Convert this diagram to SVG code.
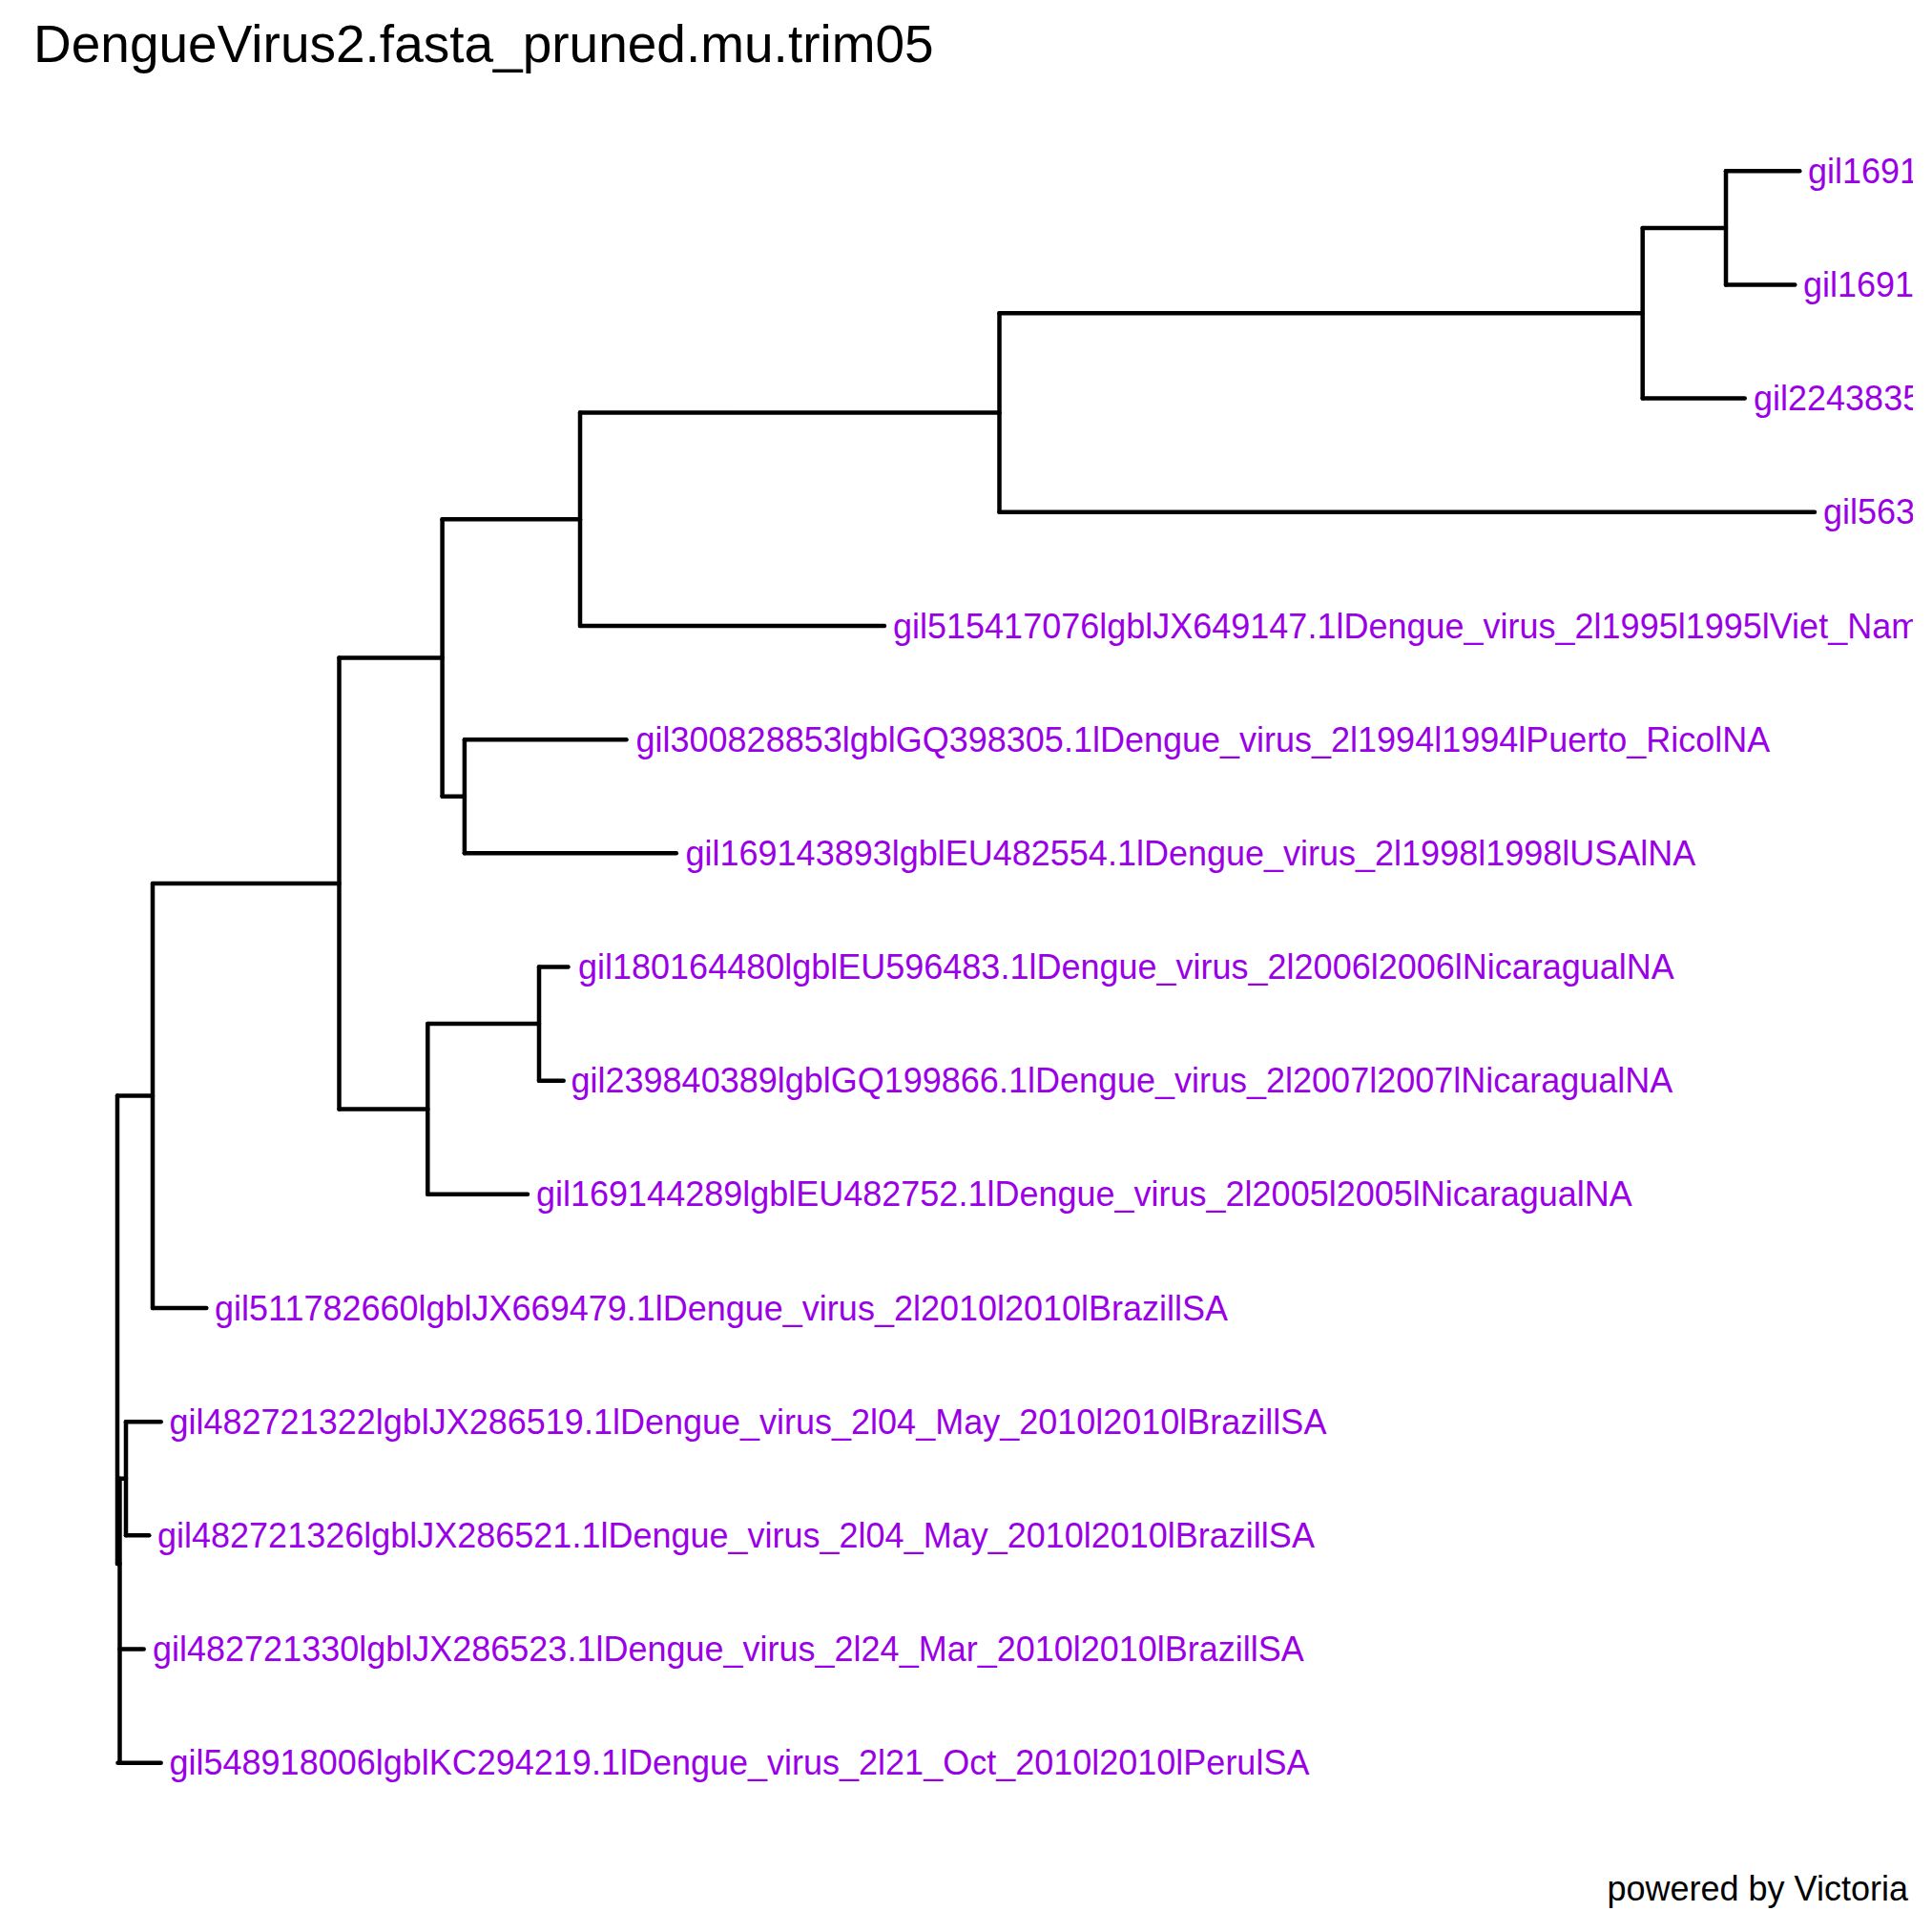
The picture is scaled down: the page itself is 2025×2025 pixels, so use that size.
<svg xmlns="http://www.w3.org/2000/svg" width="2025" height="2025" viewBox="0 0 2025 2025">
<defs>
<style>
.e{fill:none;stroke:#000;stroke-width:4.5;stroke-linecap:round;stroke-linejoin:round}
.lab{font-family:"Liberation Sans",Arial,Helvetica,sans-serif;font-size:36px;fill:#9A00E6}
.ttl{font-family:"Liberation Sans",Arial,Helvetica,sans-serif;font-size:55px;fill:#000}
.ft{font-family:"Liberation Sans",Arial,Helvetica,sans-serif;font-size:36px;fill:#000}
</style>
<clipPath id="panel"><rect x="0" y="0" width="2005" height="2025"/></clipPath>
</defs>
<rect x="0" y="0" width="2025" height="2025" fill="#fff"/>
<text class="ttl" x="35" y="65">DengueVirus2.fasta_pruned.mu.trim05</text>
<g id="connectors">
<path class="e" d="M123,1148.5V1639"/>
<path class="e" d="M125.5,1549.75V1847.7"/>
<path class="e" d="M132,1490.2V1609.3"/>
<path class="e" d="M160,926V1371"/>
<path class="e" d="M355.5,689.5V1162.45"/>
<path class="e" d="M463.6,544.25V834.75"/>
<path class="e" d="M486.9,775.2V894.3"/>
<path class="e" d="M608,432.5V656"/>
<path class="e" d="M1047.5,328.25V536.8"/>
<path class="e" d="M1721.7,238.9V417.6"/>
<path class="e" d="M1809,179.3V298.5"/>
<path class="e" d="M448.3,1073.1V1251.8"/>
<path class="e" d="M565,1013.5V1132.7"/>
<path class="e" d="M123,1148.5H160"/>
<path class="e" d="M123,1639H125.5"/>
<path class="e" d="M125.5,1549.75H132"/>
<path class="e" d="M125.5,1728.5H150.7"/>
<path class="e" d="M123.5,1847.7H168.7"/>
<path class="e" d="M132,1490.2H168.7"/>
<path class="e" d="M132,1609.3H156.3"/>
<path class="e" d="M160,926H355.5"/>
<path class="e" d="M160,1371H216.3"/>
<path class="e" d="M355.5,689.5H463.6"/>
<path class="e" d="M355.5,1162.45H448.3"/>
<path class="e" d="M463.6,544.25H608"/>
<path class="e" d="M463.6,834.75H486.9"/>
<path class="e" d="M486.9,775.2H656.5"/>
<path class="e" d="M486.9,894.3H708.8"/>
<path class="e" d="M608,432.5H1047.5"/>
<path class="e" d="M608,656H927"/>
<path class="e" d="M1047.5,328.25H1721.7"/>
<path class="e" d="M1047.5,536.8H1902"/>
<path class="e" d="M1721.7,238.9H1809"/>
<path class="e" d="M1721.7,417.6H1828.7"/>
<path class="e" d="M1809,179.3H1886.3"/>
<path class="e" d="M1809,298.5H1881.3"/>
<path class="e" d="M448.3,1073.1H565"/>
<path class="e" d="M448.3,1251.8H553"/>
<path class="e" d="M565,1013.5H595.5"/>
<path class="e" d="M565,1132.7H590.7"/>
</g>
<g clip-path="url(#panel)">
<g id="leaf0"><text class="lab" x="1895" y="191.8">gil1691</text></g>
<g id="leaf1"><text class="lab" x="1890" y="311">gil1691</text></g>
<g id="leaf2"><text class="lab" x="1838" y="430.1">gil2243835</text></g>
<g id="leaf3"><text class="lab" x="1911" y="549.3">gil563</text></g>
<g id="leaf4"><text class="lab" x="936" y="668.5">gil515417076lgblJX649147.1lDengue_virus_2l1995l1995lViet_Nam</text></g>
<g id="leaf5"><text class="lab" x="666.5" y="787.7">gil300828853lgblGQ398305.1lDengue_virus_2l1994l1994lPuerto_RicolNA</text></g>
<g id="leaf6"><text class="lab" x="718.5" y="906.8">gil169143893lgblEU482554.1lDengue_virus_2l1998l1998lUSAlNA</text></g>
<g id="leaf7"><text class="lab" x="606" y="1026">gil180164480lgblEU596483.1lDengue_virus_2l2006l2006lNicaragualNA</text></g>
<g id="leaf8"><text class="lab" x="598.5" y="1145.2">gil239840389lgblGQ199866.1lDengue_virus_2l2007l2007lNicaragualNA</text></g>
<g id="leaf9"><text class="lab" x="562" y="1264.3">gil169144289lgblEU482752.1lDengue_virus_2l2005l2005lNicaragualNA</text></g>
<g id="leaf10"><text class="lab" x="225" y="1383.5">gil511782660lgblJX669479.1lDengue_virus_2l2010l2010lBrazillSA</text></g>
<g id="leaf11"><text class="lab" x="177.5" y="1502.7">gil482721322lgblJX286519.1lDengue_virus_2l04_May_2010l2010lBrazillSA</text></g>
<g id="leaf12"><text class="lab" x="165" y="1621.8">gil482721326lgblJX286521.1lDengue_virus_2l04_May_2010l2010lBrazillSA</text></g>
<g id="leaf13"><text class="lab" x="160" y="1741">gil482721330lgblJX286523.1lDengue_virus_2l24_Mar_2010l2010lBrazillSA</text></g>
<g id="leaf14"><text class="lab" x="177.5" y="1860.2">gil548918006lgblKC294219.1lDengue_virus_2l21_Oct_2010l2010lPerulSA</text></g>
</g>
<text class="ft" x="2000" y="1992" text-anchor="end">powered by Victoria</text>
</svg>
